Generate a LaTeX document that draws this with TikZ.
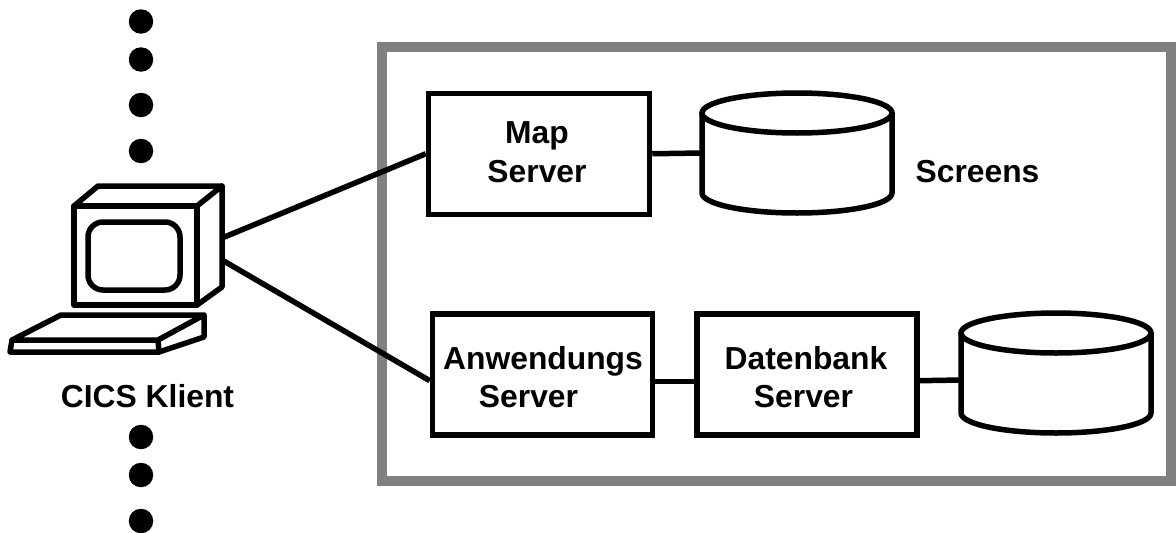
\documentclass[tikz,border=0pt]{standalone}
\usepackage{fontspec}
\setmainfont{Liberation Sans}
\usetikzlibrary{calc}
\tikzset{
  x=1pt,y=-1pt,
  ln/.style={line width=5.5pt,black,line join=round,line cap=round},
  srvbox/.style={draw=black,line width=5.5pt,fill=white,inner sep=0pt,minimum width=#1,minimum height=121pt},
  lbl/.style={inner sep=0pt,font=\fontsize{31.8}{36}\selectfont\bfseries,text=black,anchor=base},
  dot/.style={circle,fill=black,inner sep=0pt,minimum size=24.5pt},
  cylspot/.style={inner sep=0pt,minimum width=190pt,minimum height=118pt}
}
\newcommand{\cylbody}[2]{%
  \draw[ln,fill=white] (#1-95,#2-40) -- ++(0,80)
     arc[start angle=180,end angle=0,x radius=95,y radius=20] -- ++(0,-80) -- cycle;
  \draw[ln,fill=white] (#1,#2-40) ellipse[x radius=95,y radius=20];
}
\begin{document}
\begin{tikzpicture}
\useasboundingbox (0,0) rectangle (1176,533);
\fill[white] (0,0) rectangle (1176,533);
% frame
\draw[line width=10pt,draw=black!50] (382,47) rectangle (1171,481);
% dots
\node[dot] (d1) at (141,21.5) {};
\node[dot] (d2) at (141,59.5) {};
\node[dot] (d3) at (141,105) {};
\node[dot] (d4) at (141,151) {};
\node[dot] (d5) at (141,437) {};
\node[dot] (d6) at (141,475) {};
\node[dot] (d7) at (141,521) {};
% computer
\draw[ln] (74,206) -- (98,186) -- (222,186) -- (197,206);
\draw[ln] (222,186) -- (222,287) -- (197,305);
\draw[ln] (74,206) rectangle (197,305);
\draw[ln,rounded corners=15pt] (88,222) rectangle (180,290);
\draw[ln] (12,340) -- (61,315) -- (204,315) -- (204,337) -- (159,352) -- (10,352) -- (12,340) -- (158,340) -- (204,315);
\draw[ln] (158,340) -- (159,352);
\coordinate (port1) at (222,238);
\coordinate (port2) at (222,260);
% boxes
\node[srvbox=221pt] (map) at (539,153.75) {};
\node[srvbox=220pt] (anw) at (542.5,374.7) {};
\node[srvbox=220pt] (dat) at (807,374.7) {};
% cylinders
\node[cylspot] (db1) at (797,153) {};
\node[cylspot] (db2) at (1056,374) {};
\cylbody{797}{153}
\cylbody{1056}{373}
% connectors
\draw[ln,line cap=butt] (port1) -- (map.west);
\draw[ln,line cap=butt] (port2) -- ([yshift=-6pt]anw.west);
\draw[ln,line cap=butt] (map.east) -- (db1.west);
\draw[ln,line cap=butt] ([yshift=-7pt]anw.east) -- ([yshift=-7pt]dat.west);
\draw[ln,line cap=butt] ([yshift=-6pt]dat.east) -- ([yshift=-6pt]db2.west);
% labels
\node[lbl] (t1) at (537,143.5) {Map};
\node[lbl] (t2) at (537,182) {Server};
\node[lbl] (t3) at (977.5,182) {Screens};
\node[lbl] (t4) at (147.5,407) {CICS Klient};
\node[lbl] (t5) at (543,369.5) {Anwendungs};
\node[lbl] (t6) at (528.5,407.7) {Server};
\node[lbl] (t7) at (806,369.5) {Datenbank};
\node[lbl] (t8) at (803.5,407.7) {Server};
\end{tikzpicture}
\end{document}
